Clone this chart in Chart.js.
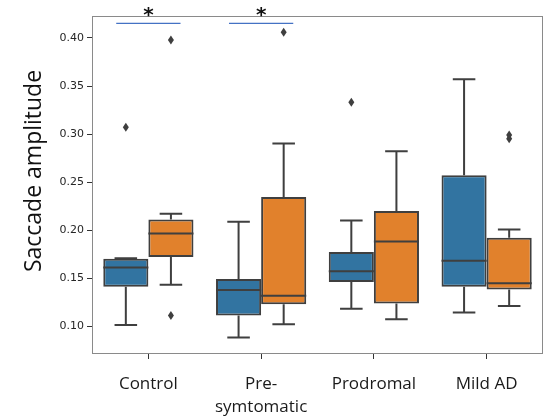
<!DOCTYPE html>
<html>
<head>
<meta charset="utf-8">
<script src="https://cdn.jsdelivr.net/npm/chart.js@4/dist/chart.umd.min.js"></script>
<style>
  html, body { margin: 0; padding: 0; background: #fff; }
  #wrap { width: 544px; height: 417px; }
</style>
</head>
<body>
<div id="wrap"><canvas id="boxChart"></canvas></div>
<script>
// === DATA ===
const categories = ["Control", ["Pre-", "symtomatic"], "Prodromal", "Mild AD"];
const yTicks = [0.10, 0.15, 0.20, 0.25, 0.30, 0.35, 0.40];
const yTitle = "Saccade amplitude";

// blue group (first box of each pair)
const blueLow = [0.101, 0.088, 0.118, 0.114];
const blueQ1 = [0.141, 0.111, 0.146, 0.141];
const blueMed = [0.161, 0.1375, 0.157, 0.168];
const blueQ3 = [0.170, 0.149, 0.177, 0.257];
const blueHigh = [0.1705, 0.2085, 0.210, 0.357];
const blueOut = [[0.307], [], [0.333], []];

// orange group (second box of each pair)
const orangeLow = [0.143, 0.102, 0.107, 0.121];
const orangeQ1 = [0.172, 0.1226, 0.1236, 0.138];
const orangeMed = [0.1965, 0.1315, 0.188, 0.1447];
const orangeQ3 = [0.211, 0.2345, 0.2197, 0.192];
const orangeHigh = [0.217, 0.290, 0.282, 0.2006];
const orangeOut = [[0.111, 0.398], [0.406], [], [0.295, 0.299]];

// significance marks: category index, level
const sigIndex = [0, 1];
const sigLevel = 0.4153;

const boxStats = [
  { low: blueLow, med: blueMed, high: blueHigh, q1: blueQ1, q3: blueQ3, out: blueOut },
  { low: orangeLow, med: orangeMed, high: orangeHigh, q1: orangeQ1, q3: orangeQ3, out: orangeOut },
];

const lineColor = "#3f3f3f";

// === whiskers, medians, fliers, frame, significance ===
const boxExtras = {
  id: "boxExtras",
  afterDatasetsDraw(chart) {
    const ctx = chart.ctx;
    const y = chart.scales.y;
    ctx.save();
    ctx.strokeStyle = lineColor;
    ctx.fillStyle = lineColor;
    ctx.lineWidth = 2;
    boxStats.forEach((st, d) => {
      const meta = chart.getDatasetMeta(d);
      meta.data.forEach((bar, i) => {
        const cx = bar.x;
        const hw = bar.width / 2;
        const cap = hw / 2;
        const yLow = y.getPixelForValue(st.low[i]);
        const yHigh = y.getPixelForValue(st.high[i]);
        const yQ1 = y.getPixelForValue(st.q1[i]);
        const yQ3 = y.getPixelForValue(st.q3[i]);
        const yMed = y.getPixelForValue(st.med[i]);
        ctx.beginPath();
        ctx.moveTo(cx, yQ3); ctx.lineTo(cx, yHigh);
        ctx.moveTo(cx - cap, yHigh); ctx.lineTo(cx + cap, yHigh);
        ctx.moveTo(cx, yQ1); ctx.lineTo(cx, yLow);
        ctx.moveTo(cx - cap, yLow); ctx.lineTo(cx + cap, yLow);
        ctx.moveTo(cx - hw, yMed); ctx.lineTo(cx + hw, yMed);
        ctx.stroke();
        st.out[i].forEach((v) => {
          const py = y.getPixelForValue(v);
          ctx.beginPath();
          ctx.moveTo(cx, py - 4.5);
          ctx.lineTo(cx + 3, py);
          ctx.lineTo(cx, py + 4.5);
          ctx.lineTo(cx - 3, py);
          ctx.closePath();
          ctx.fill();
        });
      });
    });
    ctx.restore();
  },
  afterDraw(chart) {
    const ctx = chart.ctx;
    const a = chart.chartArea;
    const x = chart.scales.x;
    const y = chart.scales.y;
    ctx.save();
    ctx.strokeStyle = "#8a8a8a";
    ctx.lineWidth = 1;
    ctx.strokeRect(a.left + 0.5, a.top + 0.5, a.right - a.left - 1, a.bottom - a.top - 1);

    // axis title, a bit above the middle like the source
    ctx.save();
    ctx.translate(34, 171);
    ctx.rotate(-Math.PI / 2);
    ctx.fillStyle = "#111";
    ctx.font = "23px 'Open Sans'";
    ctx.textAlign = "center";
    ctx.textBaseline = "middle";
    ctx.fillText(yTitle, 0, 0);
    ctx.restore();

    const step = x.getPixelForValue(1) - x.getPixelForValue(0);
    sigIndex.forEach((i) => {
      const cx = x.getPixelForValue(i);
      const py = y.getPixelForValue(sigLevel);
      ctx.strokeStyle = "#4472c4";
      ctx.lineWidth = 1.3;
      ctx.beginPath();
      ctx.moveTo(cx - step * 0.285, py);
      ctx.lineTo(cx + step * 0.285, py);
      ctx.stroke();
      ctx.fillStyle = "#111";
      ctx.font = "bold 20px 'DejaVu Sans'";
      ctx.textAlign = "center";
      ctx.textBaseline = "middle";
      ctx.fillText("*", cx, py - 8);
    });
    ctx.restore();
  },
};

new Chart(document.getElementById("boxChart"), {
  type: "bar",
  data: {
    labels: categories,
    datasets: [
      {
        label: "blue",
        data: blueQ1.map((q, i) => [q, blueQ3[i]]),
        backgroundColor: "#3274a1",
      },
      {
        label: "orange",
        data: orangeQ1.map((q, i) => [q, orangeQ3[i]]),
        backgroundColor: "#e1812c",
      },
    ].map((ds) => ({
      ...ds,
      borderColor: lineColor,
      borderWidth: 2,
      borderSkipped: false,
      categoryPercentage: 0.8,
      barPercentage: 1.0,
    })),
  },
  options: {
    responsive: true,
    maintainAspectRatio: false,
    animation: false,
    events: [],
    layout: { padding: { top: 16, right: 1, left: 0, bottom: 0 } },
    plugins: {
      legend: { display: false },
      tooltip: { enabled: false },
      title: { display: false },
    },
    scales: {
      x: {
        grid: { offset: false, drawOnChartArea: false, drawTicks: true, tickLength: 5, color: "#333" },
        border: { display: false },
        ticks: {
          padding: 14,
          color: "#1a1a1a",
          font: { family: "'Open Sans'", size: 17, lineHeight: 1.32 },
          maxRotation: 0,
          autoSkip: false,
        },
        afterFit: (s) => { s.height = 63; },
      },
      y: {
        min: 0.0709,
        max: 0.4229,
        grid: { drawOnChartArea: false, drawTicks: true, tickLength: 5, color: "#333" },
        border: { display: false },
        afterBuildTicks: (s) => { s.ticks = yTicks.map((v) => ({ value: v })); },
        ticks: {
          padding: 3,
          color: "#262626",
          font: { family: "'DejaVu Sans'", size: 11 },
          callback: (v) => Number(v).toFixed(2),
        },
        afterFit: (s) => { s.width = 92; },
      },
    },
  },
  plugins: [boxExtras],
});
</script>
</body>
</html>
